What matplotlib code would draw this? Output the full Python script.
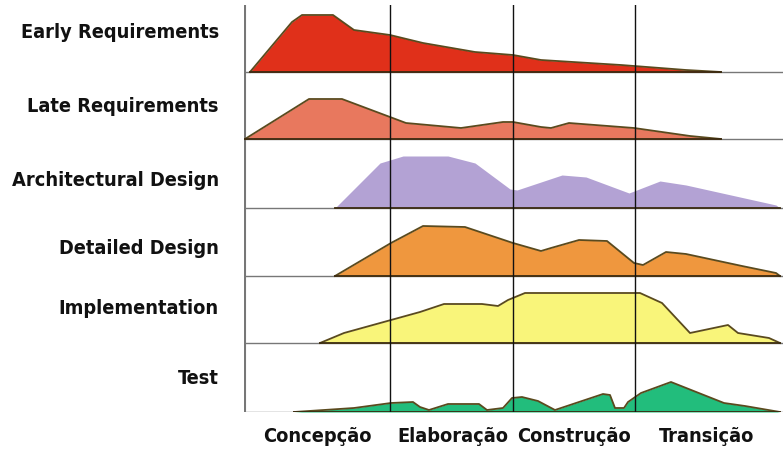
import matplotlib
matplotlib.use("Agg")
import matplotlib.pyplot as plt
import numpy as np

# activity names (top to bottom) and phase names
activities = ["Early Requirements", "Late Requirements", "Architectural Design",
              "Detailed Design", "Implementation", "Test"]
phases = ["Concepção", "Elaboração", "Construção", "Transição"]
phase_edges = [390, 513, 635]
phase_centers = [317, 453, 574, 707]

# effort curves: x position (timeline) and height above the row baseline
early_x = [250, 292, 302, 333, 354, 390, 423, 475, 513, 541, 621, 686, 721]
early_h = [0, 50, 57, 57, 42, 37, 29, 20, 17, 12, 7, 2, 0]

late_x = [245, 309, 342, 390, 406, 461, 503, 513, 541, 551, 569, 634, 690, 721]
late_h = [0, 40, 40, 22, 16, 11, 17, 17, 12, 11, 16, 11, 3, 0]

arch_x = [335, 380, 403, 448, 475, 510, 517, 562, 586, 629, 660, 686, 776, 780]
arch_h = [0, 45, 52, 52, 45, 19, 18, 33, 31, 15, 27, 23, 3, 0]

det_x = [335, 391, 423, 465, 513, 541, 551, 579, 607, 634, 643, 666, 686, 742, 776, 780]
det_h = [0, 33, 50, 49, 33, 25, 28, 36, 35, 13, 11, 24, 22, 10, 3, 0]

impl_x = [320, 344, 391, 420, 444, 482, 498, 508, 525, 640, 662, 690, 728, 738, 769, 780]
impl_h = [0, 10, 23, 31, 39, 39, 37, 43, 50, 50, 40, 10, 18, 10, 5, 0]

test_x = [294, 354, 391, 413, 420, 429, 448, 479, 487, 503, 512, 522, 538, 555,
          603, 610, 615, 624, 628, 641, 671, 724, 745, 780]
test_h = [0, 4, 9, 10, 5, 2, 8, 8, 2, 4, 14, 15, 11, 2,
          18, 17, 4, 4, 10, 19, 30, 9, 6, 0]

curves = [(early_x, early_h), (late_x, late_h), (arch_x, arch_h),
          (det_x, det_h), (impl_x, impl_h), (test_x, test_h)]
colors = ["#e0301a", "#e8785e", "#b3a2d4", "#ef973e", "#f9f57a", "#22bd7c"]
outline = [True, True, False, True, True, True]

# row baselines (pixel rows of the original, converted to y up)
base_pix = [72, 139, 208, 276, 343, 412]
bases = [412 - b for b in base_pix]

fig = plt.figure(figsize=(7.83, 4.51), dpi=100)
ax = fig.add_axes([244 / 783, 39 / 451, 539 / 783, 407 / 451])
ax.set_xlim(244, 783)
ax.set_ylim(0, 407)
ax.axis("off")

for (xs, hs), b, c, ol in zip(curves, bases, colors, outline):
    xs = np.array(xs)
    top = b + np.array(hs)
    ax.fill_between(xs, b, top, color=c, lw=0, zorder=2)
    if ol:
        ax.plot(xs, top, color="#5a4a1e", lw=1.3, zorder=3)
    ax.plot([xs[0], xs[-1]], [b, b], color="#3a2a10", lw=1.3, zorder=3)

for b in bases:
    ax.axhline(b, color="#777777", lw=1.0, zorder=1)
for xe in phase_edges:
    ax.axvline(xe, color="#111111", lw=1.0, zorder=4)
ax.axvline(244.5, color="#777777", lw=1.5, zorder=1)

txt = dict(fontweight="bold", family="DejaVu Sans", fontstretch="condensed",
           color="#111111")

# pick a font size so the widest label fits like in the original (198 px)
probe = fig.text(0, 0, activities[0], fontsize=20, **txt)
w = probe.get_window_extent(fig.canvas.get_renderer()).width
probe.remove()
fs = 20 * 198 / w

label_y = [33, 107, 181, 248, 309, 378]
for name, ly in zip(activities, label_y):
    fig.text(219 / 783, 1 - ly / 451, name, ha="right", va="center",
             fontsize=fs, **txt)
for name, px in zip(phases, phase_centers):
    fig.text(px / 783, 1 - 437 / 451, name, ha="center", va="center",
             fontsize=fs, **txt)

fig.savefig("out.png", dpi=100)
